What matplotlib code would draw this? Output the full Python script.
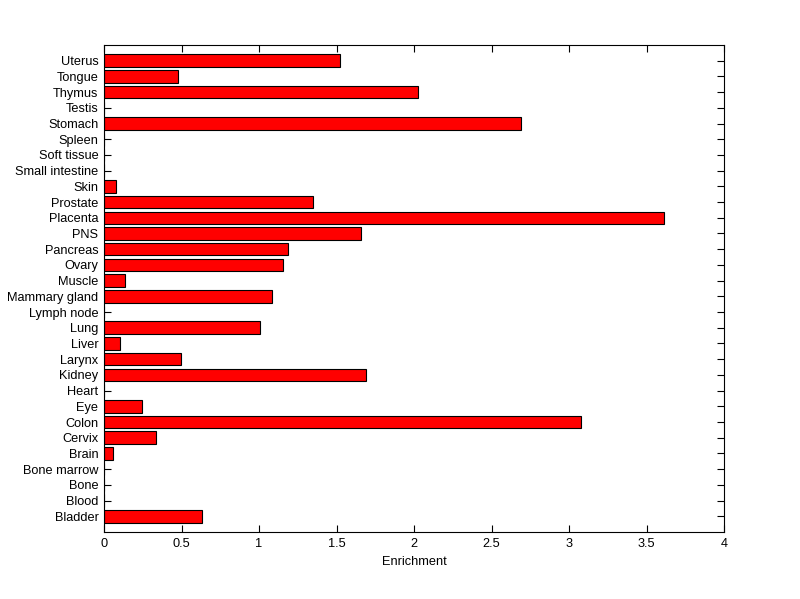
import matplotlib
matplotlib.use("Agg")
import matplotlib.pyplot as plt

categories = ["Bladder", "Blood", "Bone", "Bone marrow", "Brain", "Cervix", "Colon", "Eye",
              "Heart", "Kidney", "Larynx", "Liver", "Lung", "Lymph node", "Mammary gland",
              "Muscle", "Ovary", "Pancreas", "PNS", "Placenta", "Prostate", "Skin",
              "Small intestine", "Soft tissue", "Spleen", "Stomach", "Testis", "Thymus",
              "Tongue", "Uterus"]
values = [0.632, 0, 0, 0, 0.058, 0.335, 3.077, 0.245,
          0, 1.69, 0.497, 0.103, 1.006, 0, 1.084,
          0.135, 1.155, 1.187, 1.658, 3.613, 1.348, 0.077,
          0, 0, 0, 2.69, 0, 2.026,
          0.477, 1.523]
xticks = [0, 0.5, 1, 1.5, 2, 2.5, 3, 3.5, 4]
xtick_labels = ["0", "0.5", "1", "1.5", "2", "2.5", "3", "3.5", "4"]

plt.rcParams['font.family'] = ['Liberation Sans', 'DejaVu Sans']
fig = plt.figure(figsize=(8, 5.99), dpi=100)
ax = fig.add_axes([0.13, 0.1119, 0.775, 0.8130])
ax.set_axisbelow(True)
pos = list(range(1, len(categories) + 1))
ax.barh(pos, values, height=0.8, color='#ff0000', edgecolor='black', linewidth=0.8)
ax.set_ylim(0, len(categories) + 1)
ax.set_xlim(0, 4)
ax.set_yticks(pos)
ax.set_yticklabels(categories, fontsize=9.2)
ax.set_xticks(xticks)
ax.set_xticklabels(xtick_labels, fontsize=9.2)
ax.set_xlabel("Enrichment", fontsize=9.2, labelpad=5)
ax.tick_params(direction='in', length=5, width=0.8, top=True, right=True, pad=4)
for s in ax.spines.values():
    s.set_linewidth(0.8)
fig.savefig("out.png", dpi=100)
